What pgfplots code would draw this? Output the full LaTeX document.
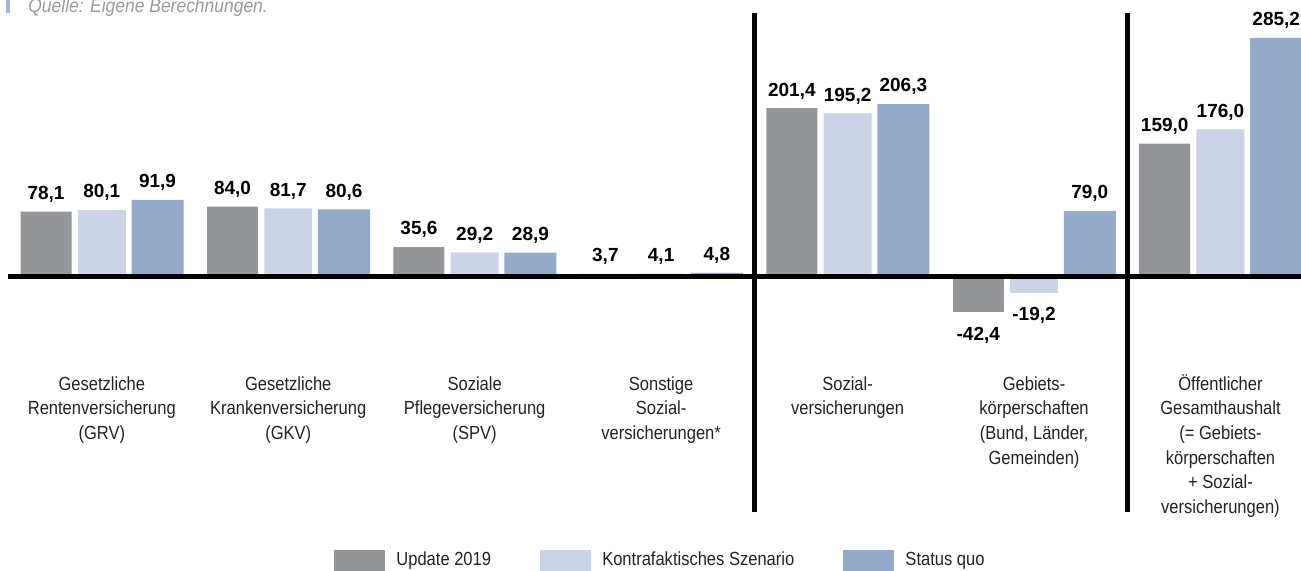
\documentclass[border=0pt]{standalone}
\usepackage{fontspec}
\setmainfont{Liberation Sans}[FakeStretch=0.87]
\newfontfamily\valfont{Liberation Sans}
\newfontfamily\srcfont{Liberation Sans}[FakeStretch=0.9]
\usepackage{pgfplots}
\pgfplotsset{compat=1.18}
\definecolor{cgrey}{HTML}{939598}
\definecolor{clight}{HTML}{CAD4E6}
\definecolor{cblue}{HTML}{95A9CB}
\definecolor{cmark}{HTML}{A5B5D3}
\definecolor{ctext}{HTML}{222222}
\definecolor{csrc}{HTML}{9A9A9A}
\begin{document}
\begin{tikzpicture}
\useasboundingbox (0,0) rectangle (650.5pt,285pt);
\begin{axis}[
  at={(0,0)}, anchor=south west,
  scale only axis, width=650.5pt, height=285pt,
  xmin=-0.546, xmax=6.432, ymin=-349.7, ymax=330.5,
  hide axis, clip=false,
  ybar,
  point meta=explicit symbolic,
  nodes near coords={\pgfplotspointmeta},
  every node near coord/.append style={font=\valfont\bfseries\fontsize{9.5}{11}\selectfont, text=black, inner sep=0pt, outer sep=4.6pt},
  legend columns=3,
  legend style={at={(axis cs:1.2454,-325.8)}, anchor=north west, draw=none, fill=none, inner sep=0pt,
    font=\fontsize{9.5}{11}\selectfont, text=ctext, nodes={inner sep=0pt},
    column sep=5.5pt, /tikz/every even column/.append style={column sep=24.6pt}},
]
\addplot[fill=cgrey, draw=none, bar width=0.2735, bar shift=-0.299,
  legend image code/.code={\fill[cgrey] (0pt,-7pt) rectangle (25.5pt,5pt);}]
  coordinates {(0,78.1)[78,1] (1,84.0)[84,0] (2,35.6)[35,6] (3,3.7)[3,7] (4,201.4)[201,4] (6,159.0)[159,0]};
\addplot[fill=clight, draw=none, bar width=0.2574, bar shift=0,
  legend image code/.code={\fill[clight] (0pt,-7pt) rectangle (25.5pt,5pt);}]
  coordinates {(0,80.1)[80,1] (1,81.7)[81,7] (2,29.2)[29,2] (3,4.1)[4,1] (4,195.2)[195,2] (6,176.0)[176,0]};
\addplot[fill=cblue, draw=none, bar width=0.279, bar shift=0.299,
  legend image code/.code={\fill[cblue] (0pt,-7pt) rectangle (25.5pt,5pt);}]
  coordinates {(0,91.9)[91,9] (1,80.6)[80,6] (2,28.9)[28,9] (3,4.8)[4,8] (4,206.3)[206,3] (5,79.0)[79,0] (6,285.2)[285,2]};
\legend{Update 2019, Kontrafaktisches Szenario, Status quo}
% negative bars, labels below
\addplot[fill=cgrey, draw=none, bar width=0.2735, bar shift=-0.299, forget plot,
  every node near coord/.append style={anchor=north, outer sep=7.3pt}]
  coordinates {(5,-42.4)[-42,4]};
\addplot[fill=clight, draw=none, bar width=0.2574, bar shift=0, forget plot,
  every node near coord/.append style={anchor=north, outer sep=7.3pt}]
  coordinates {(5,-19.2)[-19,2]};
% zero line and separators
\addplot[sharp plot, black, line width=2.5pt, forget plot, nodes near coords={}] coordinates {(-0.503,0) (6.432,0)};
\addplot[sharp plot, black, line width=2.5pt, forget plot, nodes near coords={}] coordinates {(3.5,314.7) (3.5,-280.1)};
\addplot[sharp plot, black, line width=2.5pt, forget plot, nodes near coords={}] coordinates {(5.5,314.7) (5.5,-280.1)};
% source
\fill[cmark] (axis cs:-0.512,330.5) rectangle (axis cs:-0.490,315.0);
\node[anchor=base west, inner sep=0pt, text=csrc, font=\srcfont\fontsize{9.7}{11}\selectfont\itshape] at (axis cs:-0.3958,315.6) {Quelle: Eigene Berechnungen.};
% category labels
\tikzset{cat/.style={anchor=north, inner sep=0pt, align=center, text=ctext, font=\fontsize{9.5}{12.3}\selectfont}}
\node[cat] at (axis cs:0,-115.75) {\rule{0pt}{8pt}Gesetzliche\\Rentenversicherung\\(GRV)};
\node[cat] at (axis cs:1,-115.75) {\rule{0pt}{8pt}Gesetzliche\\Krankenversicherung\\(GKV)};
\node[cat] at (axis cs:2,-115.75) {\rule{0pt}{8pt}Soziale\\Pflegeversicherung\\(SPV)};
\node[cat] at (axis cs:3,-115.75) {\rule{0pt}{8pt}Sonstige\\Sozial-\\versicherungen*};
\node[cat] at (axis cs:4,-115.75) {\rule{0pt}{8pt}Sozial-\\versicherungen};
\node[cat] at (axis cs:5,-115.75) {\rule{0pt}{8pt}Gebiets-\\körperschaften\\(Bund, Länder,\\Gemeinden)};
\node[cat] at (axis cs:6,-115.75) {\rule{0pt}{8pt}Öffentlicher\\Gesamthaushalt\\(= Gebiets-\\körperschaften\\+ Sozial-\\versicherungen)};
\end{axis}
\end{tikzpicture}
\end{document}
